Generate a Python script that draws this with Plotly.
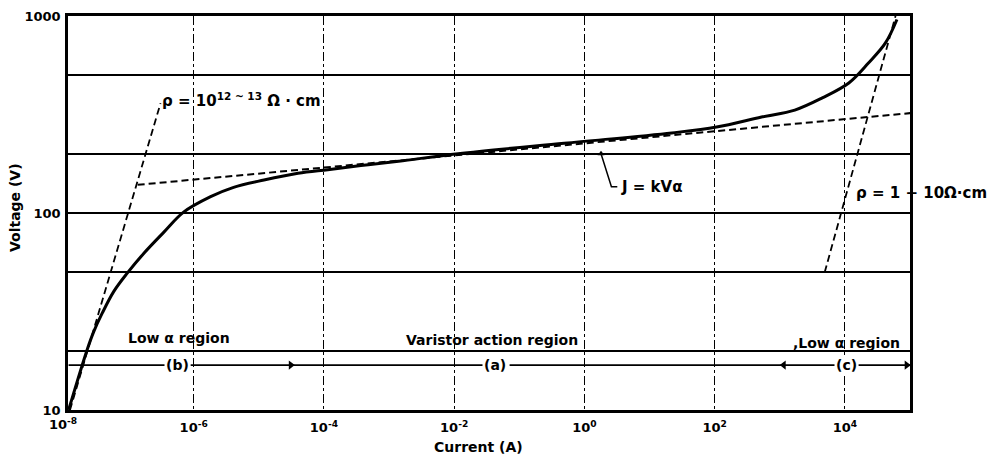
import plotly.graph_objects as go
import math

# ---- data ----
# main V-I characteristic (solid)
curve_I = [1.2e-8, 2.32e-8, 2.92e-8, 3.94e-8, 5.94e-8, 9.55e-8, 1.72e-7, 3.49e-7, 7.0e-7,
           1.82e-6, 4.1e-6, 1.2e-5, 4.0e-5, 1.15e-4, 3.7e-4, 1.4e-3, 1.15e-2, 0.49,
           22, 107, 525, 1.7e3, 4.5e3, 1.15e4, 2.3e4, 4.2e4, 6.3e4]
curve_V = [10, 20.3, 25.0, 31.0, 40.0, 49.5, 62.5, 80.0, 101,
           121, 135, 147, 159, 166, 174, 183, 200, 226,
           255, 273, 307, 333, 384, 457, 577, 730, 960]

# high-resistivity ohmic line (dashed)
rho_hi_I = [1.26e-8, 3.1e-7]
rho_hi_V = [10, 361]

# J = kV^alpha fit (dashed)
fit_I = [1.38e-7, 1.07e5]
fit_V = [139, 322]

# low-resistivity ohmic line (dashed)
rho_lo_I = [4.9e3, 6.0e4]
rho_lo_V = [50, 1000]

# region arrow row
row_V = 16.9
row_I = [1.2e-8, 3.7e-7, None, 8.9e-7, 2.8e-2, None, 7.1e-2, 7.1e3, None, 1.6e4, 1.07e5]
region_labels = ["(b)", "(a)", "(c)"]
region_label_I = [5.6e-7, 4.3e-2, 1.05e4]
arrow_right_I = [3.1e-5, 8.9e4]
arrow_left_I = [1.15e3]

# leader for J = kV^alpha
leader_I = [1.8, 2.6, 3.2]
leader_V = [200, 136, 136]

x_tickvals = [1e-6, 1e-4, 1e-2, 1e0, 1e2, 1e4]
x_ticktext = ["10<sup>-6</sup>", "10<sup>-4</sup>", "10<sup>-2</sup>",
              "10<sup>0</sup>", "10<sup>2</sup>", "10<sup>4</sup>"]
x_first_text = "10<sup>-8</sup>"
y_tickvals = [10, 20, 50, 100, 200, 500, 1000]
y_ticktext = ["10", "", "", "100", "", "", "1000"]

FONT = "DejaVu Sans"
dash = "7px,4px"
XRANGE = [-7.93, 5.0]

fig = go.Figure()
fig.add_trace(go.Scatter(x=rho_hi_I, y=rho_hi_V, mode="lines",
                         line=dict(color="black", width=1.8, dash=dash)))
fig.add_trace(go.Scatter(x=fit_I, y=fit_V, mode="lines",
                         line=dict(color="black", width=2, dash=dash)))
fig.add_trace(go.Scatter(x=rho_lo_I, y=rho_lo_V, mode="lines",
                         line=dict(color="black", width=1.8, dash=dash)))
fig.add_trace(go.Scatter(x=curve_I, y=curve_V, mode="lines",
                         line=dict(color="black", width=3, shape="spline", smoothing=1.0)))
fig.add_trace(go.Scatter(x=row_I, y=[None if i is None else row_V for i in row_I],
                         mode="lines", line=dict(color="black", width=1.8)))
fig.add_trace(go.Scatter(x=arrow_right_I, y=[row_V] * len(arrow_right_I), mode="markers",
                         marker=dict(symbol="triangle-right", size=8, color="black")))
fig.add_trace(go.Scatter(x=arrow_left_I, y=[row_V] * len(arrow_left_I), mode="markers",
                         marker=dict(symbol="triangle-left", size=8, color="black")))
fig.add_trace(go.Scatter(x=leader_I, y=leader_V, mode="lines",
                         line=dict(color="black", width=1.5)))
fig.add_trace(go.Scatter(x=leader_I[:1], y=leader_V[:1], mode="markers",
                         marker=dict(symbol="triangle-up", size=6, color="black")))

ann = []
lg = math.log10
tf = dict(family=FONT, size=14, color="black", weight="bold")
tickf = dict(family=FONT, size=13, color="black", weight="bold")
for lab, xi in zip(region_labels, region_label_I):
    ann.append(dict(x=lg(xi), y=lg(row_V), text=lab, showarrow=False, font=tf,
                    xanchor="center", yanchor="middle", bgcolor="white"))
# paper position of the 10^-8 tick, which lies just left of the plotted range
x_first_paper = (-8 - XRANGE[0]) / (XRANGE[1] - XRANGE[0])
ann += [
    dict(x=lg(6.0e-7), y=lg(23.2), text="Low α region", showarrow=False, font=tf,
         xanchor="center", yanchor="middle"),
    dict(x=lg(1.7e-3), y=lg(22.6), text="Varistor action region", showarrow=False, font=tf,
         xanchor="left", yanchor="middle"),
    dict(x=lg(1.5e3), y=lg(22.0), text=",Low α region", showarrow=False, font=tf,
         xanchor="left", yanchor="middle"),
    dict(x=lg(3.0e-7), y=lg(375), text="ρ = 10<sup>12 ~ 13</sup> Ω · cm", showarrow=False,
         font=dict(family=FONT, size=15, color="black", weight="bold"),
         xanchor="left", yanchor="middle"),
    dict(x=lg(3.4), y=lg(136), text="J = kVα", showarrow=False,
         font=dict(family=FONT, size=15, color="black", weight="bold"),
         xanchor="left", yanchor="middle"),
    dict(x=lg(1.4e4), y=lg(126), text="ρ = 1 − 10Ω·cm", showarrow=False,
         font=dict(family=FONT, size=15, color="black", weight="bold"),
         xanchor="left", yanchor="middle"),
    dict(x=x_first_paper, xref="paper", y=0, yref="paper", text=x_first_text,
         showarrow=False, font=tickf, xanchor="center", yanchor="top", yshift=-4),
    dict(x=0.487, y=-0.094, xref="paper", yref="paper", text="Current (A)",
         showarrow=False, font=tf, xanchor="center", yanchor="middle"),
    dict(x=-0.063, y=0.515, xref="paper", yref="paper", text="Voltage (V)",
         showarrow=False, font=tf, textangle=-90, xanchor="center", yanchor="middle"),
]

# page body has an 8px margin, so the figure is sized/placed to compensate
fig.update_layout(
    width=993, height=454,
    margin=dict(l=60, r=91, t=8, b=52, autoexpand=False),
    plot_bgcolor="white", paper_bgcolor="white",
    showlegend=False,
    annotations=ann,
    font=dict(family=FONT, color="black"),
)
fig.update_xaxes(type="log", range=XRANGE, tickvals=x_tickvals, ticktext=x_ticktext,
                 showgrid=True, gridcolor="black", gridwidth=1.3, griddash="dashdot",
                 showline=True, mirror=True, linecolor="black", linewidth=2.5,
                 ticks="", ticklabelstandoff=4, automargin=False, tickfont=tickf,
                 zeroline=False)
fig.update_yaxes(type="log", range=[1, 3], tickvals=y_tickvals, ticktext=y_ticktext,
                 showgrid=True, gridcolor="black", gridwidth=2,
                 showline=True, mirror=True, linecolor="black", linewidth=2.5,
                 ticks="", ticklabelstandoff=2, automargin=False,
                 tickfont=tickf, zeroline=False)

fig.write_html("out.html")
